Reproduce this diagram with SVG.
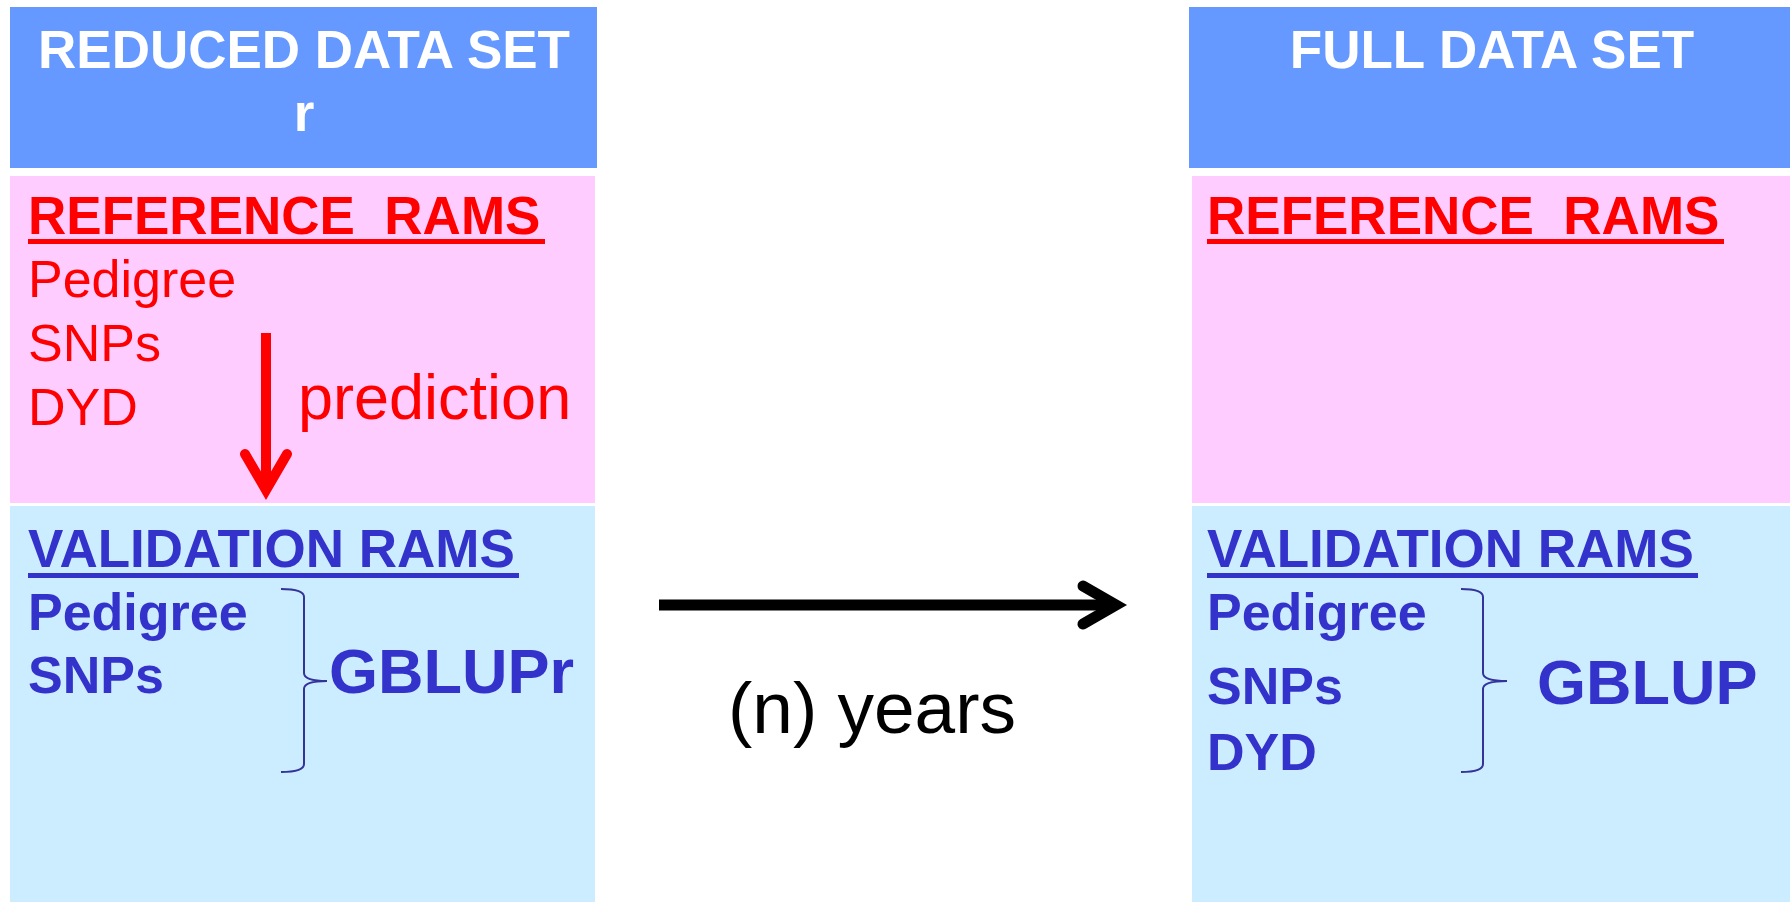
<svg xmlns="http://www.w3.org/2000/svg" width="1790" height="902" viewBox="0 0 1790 902">
<style>
text{font-family:"Liberation Sans",Arial,sans-serif}
.hdr{fill:#6699FF}
.pink{fill:#FFCCFF}
.lb{fill:#CCECFF}
.ht{fill:#FFFFFF;font-weight:bold;font-size:53px;text-anchor:middle}
.rt{fill:#FF0000;font-weight:bold;font-size:53px}
.rn{fill:#FF0000;font-size:52px}
.bt{fill:#3333CC;font-weight:bold;font-size:53px}
.bb{fill:#3333CC;font-weight:bold;font-size:52px}
.big{fill:#3333CC;font-weight:bold;font-size:63px}
.brace{fill:none;stroke:#333399;stroke-width:2}
</style>
<rect width="1790" height="902" fill="#FFFFFF"/>
<g id="reduced-header">
<rect class="hdr" x="10" y="7" width="587" height="161"/>
<text class="ht" x="304" y="68">REDUCED DATA SET</text>
<text class="ht" x="304" y="131">r</text>
</g>
<g id="reduced-reference">
<rect class="pink" x="10" y="176" width="585" height="327"/>
<text class="rt" x="28" y="234" xml:space="preserve">REFERENCE  RAMS</text>
<rect x="28" y="239" width="517" height="5" fill="#FF0000"/>
<text class="rn" x="28" y="297">Pedigree</text>
<text class="rn" x="28" y="361">SNPs</text>
<text class="rn" x="28" y="425">DYD</text>
<text class="rn" x="298" y="419" style="font-size:63px">prediction</text>
</g>
<g id="reduced-validation">
<rect class="lb" x="10" y="506" width="585" height="396"/>
<text class="bt" x="28" y="567">VALIDATION RAMS</text>
<rect x="28" y="573" width="491" height="5" fill="#3333CC"/>
<text class="bb" x="28" y="630">Pedigree</text>
<text class="bb" x="28" y="693">SNPs</text>
<path class="brace" d="M281,589 Q304,589 304,597 L304,673 Q304,681 327,681 Q304,681 304,689 L304,764 Q304,772 281,772"/>
<text class="big" x="329" y="693">GBLUPr</text>
</g>
<g id="full-header">
<rect class="hdr" x="1189" y="7" width="601" height="161"/>
<text class="ht" x="1492" y="68">FULL DATA SET</text>
</g>
<g id="full-reference">
<rect class="pink" x="1192" y="176" width="598" height="327"/>
<text class="rt" x="1207" y="234" xml:space="preserve">REFERENCE  RAMS</text>
<rect x="1207" y="239" width="517" height="5" fill="#FF0000"/>
</g>
<g id="full-validation">
<rect class="lb" x="1192" y="506" width="598" height="396"/>
<text class="bt" x="1207" y="567">VALIDATION RAMS</text>
<rect x="1207" y="573" width="491" height="5" fill="#3333CC"/>
<text class="bb" x="1207" y="630">Pedigree</text>
<text class="bb" x="1207" y="704">SNPs</text>
<text class="bb" x="1207" y="770">DYD</text>
<path class="brace" d="M1461,589 Q1483,589 1483,597 L1483,673 Q1483,681 1507,681 Q1483,681 1483,689 L1483,764 Q1483,772 1461,772"/>
<text class="big" x="1537" y="704">GBLUP</text>
</g>
<g id="connectors">
<line x1="266" y1="333" x2="266" y2="488" stroke="#FF0000" stroke-width="10"/>
<polyline points="245,454 266,490 287,454" fill="none" stroke="#FF0000" stroke-width="10" stroke-linecap="round" stroke-linejoin="miter"/>
<line x1="659" y1="605" x2="1112" y2="605" stroke="#000000" stroke-width="11"/>
<polyline points="1083,586 1116,605 1083,624" fill="none" stroke="#000000" stroke-width="11" stroke-linecap="round" stroke-linejoin="miter"/>
<text x="872" y="733" font-size="73" text-anchor="middle" fill="#000000">(n) years</text>
</g>
</svg>
